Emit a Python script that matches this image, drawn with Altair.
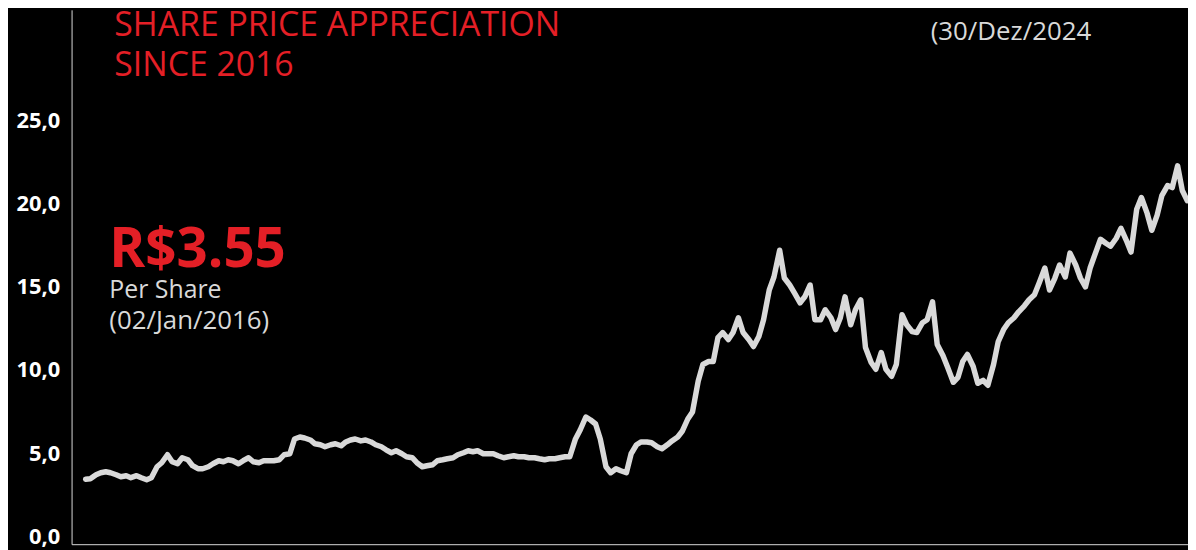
import altair as alt
import pandas as pd

# Closing prices (R$), sampled on the 1st and 15th of each month
price_2016 = [3.55, 3.58, 3.82, 3.94, 4.00, 3.94, 3.82, 3.70, 3.76, 3.64, 3.76, 3.64,
              3.52, 3.64, 4.30, 4.54, 5.02, 4.60, 4.48, 4.84, 4.72, 4.36, 4.18, 4.18]
price_2017 = [4.30, 4.48, 4.66, 4.60, 4.72, 4.66, 4.48, 4.66, 4.84, 4.60, 4.54, 4.66,
              4.66, 4.66, 4.72, 5.02, 5.08, 5.97, 6.09, 6.03, 5.91, 5.68, 5.62, 5.50]
price_2018 = [5.62, 5.68, 5.56, 5.79, 5.91, 5.97, 5.85, 5.91, 5.79, 5.62, 5.50, 5.32,
              5.14, 5.26, 5.08, 4.90, 4.84, 4.54, 4.30, 4.36, 4.42, 4.66, 4.72, 4.78]
price_2019 = [4.84, 5.02, 5.14, 5.26, 5.20, 5.26, 5.08, 5.08, 5.08, 4.96, 4.84, 4.90,
              4.96, 4.90, 4.90, 4.84, 4.84, 4.78, 4.72, 4.78, 4.78, 4.84, 4.90, 4.90]
price_2020 = [5.97, 6.51, 7.29, 7.11, 6.87, 5.97, 4.30, 3.94, 4.18, 4.06, 3.94, 5.08,
              5.62, 5.79, 5.79, 5.74, 5.50, 5.38, 5.62, 5.85, 6.09, 6.45, 7.17, 7.59]
price_2021 = [9.44, 10.45, 10.63, 10.63, 12.07, 12.37, 11.95, 12.37, 13.26, 12.37, 11.95, 11.53,
              12.13, 13.14, 14.93, 15.71, 17.32, 15.65, 15.23, 14.76, 14.16, 14.52, 15.23, 13.14]
price_2022 = [13.14, 13.74, 13.26, 12.55, 13.26, 14.52, 12.84, 13.74, 14.34, 11.47, 10.57, 10.16,
              11.17, 10.16, 9.74, 10.45, 13.44, 12.84, 12.43, 12.37, 12.96, 13.14, 14.22, 11.65]
price_2023 = [10.99, 10.28, 9.38, 9.68, 10.63, 11.05, 10.34, 9.32, 9.50, 9.20, 10.45, 11.83,
              12.55, 12.96, 13.26, 13.62, 13.98, 14.34, 14.64, 15.35, 16.25, 14.93, 15.65, 16.43]
price_2024 = [15.71, 17.15, 16.43, 15.65, 15.11, 16.25, 17.21, 17.98, 17.74, 17.56, 18.04, 18.64,
              17.92, 17.21, 19.79, 20.49, 19.55, 18.52, 19.43, 20.61, 21.21, 21.09, 22.40, 20.91]
last_date = "2024-12-30"
last_price = 20.30

y_ticks = [0, 5, 10, 15, 20, 25]

prices = (price_2016 + price_2017 + price_2018 + price_2019 + price_2020 +
          price_2021 + price_2022 + price_2023 + price_2024 + [last_price])
dates = [d.strftime("%Y-%m-%d") for d in pd.date_range("2016-01-01", "2024-12-15", freq="SMS")]
dates.append(last_date)

df = pd.DataFrame({"date": dates, "price": prices})

RED = "#e41f26"
GREY = "#d9d9d9"
FONT = "Open Sans"

line = alt.Chart(df).mark_line(
    color=GREY, strokeWidth=5.5, strokeJoin="round", strokeCap="round"
).encode(
    x=alt.X("date:T", scale=alt.Scale(domain=["2015-11-20", "2025-01-01"]),
            axis=alt.Axis(title=None, labels=False, ticks=False, grid=False,
                          domainColor=GREY, domainWidth=1)),
    y=alt.Y("price:Q", scale=alt.Scale(domain=[-0.36, 31.78], nice=False, zero=False),
            axis=alt.Axis(title=None, values=y_ticks, grid=False, ticks=False, tickSize=0,
                          labelPadding=12, labelFont=FONT, labelFontSize=22,
                          labelFontWeight="bold", labelColor="#ffffff",
                          labelOffset=-2,
                          labelExpr="replace(format(datum.value, '.1f'), '.', ',')",
                          domainColor=GREY, domainWidth=1)),
)

anchor = pd.DataFrame({"a": [0]})


def label(txt, x, y, size, color, weight="normal"):
    return alt.Chart(anchor).mark_text(
        text=txt, align="left", baseline="alphabetic", font=FONT,
        fontSize=size, fontWeight=weight, color=color
    ).encode(x=alt.value(x), y=alt.value(y))


texts = [
    label("SHARE PRICE APPRECIATION", 43, 26, 34, RED),
    label("SINCE 2016", 43, 67, 34, RED),
    label("R$3.55", 38, 259, 55, RED, "bold"),
    label("Per Share", 38, 290, 25, GREY),
    label("(02/Jan/2016)", 38, 321, 26, GREY),
    label("Per Share", 865, -5, 26, GREY),
    label("(30/Dez/2024", 865, 30, 26, GREY),
]

chart = alt.layer(line, *texts).properties(
    width=1124, height=538,
    autosize=alt.AutoSizeParams(type="none"),
    padding={"left": 64, "top": 0, "right": 0, "bottom": 4},
    background="#000000",
).configure_view(stroke=None)

chart.save("out.html", embed_options={"renderer": "svg", "actions": False})
